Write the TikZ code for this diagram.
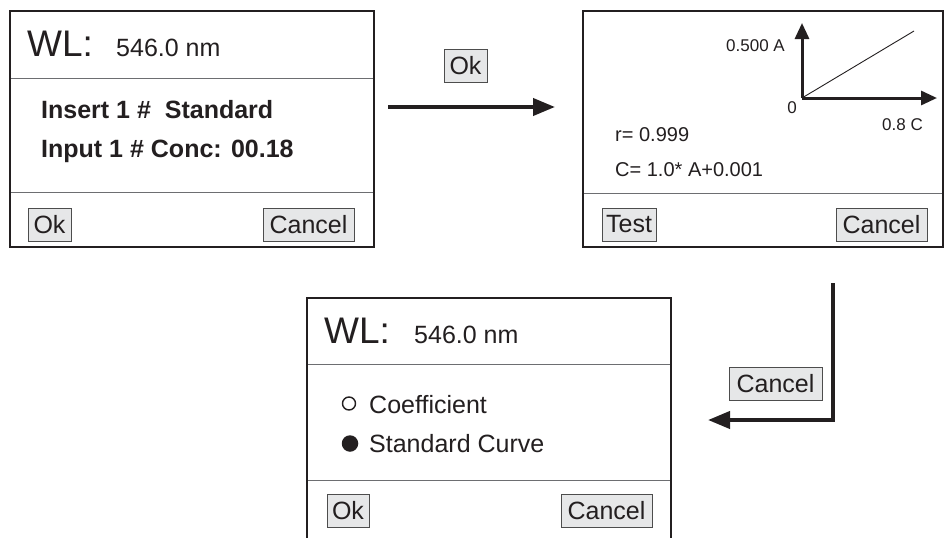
\documentclass[tikz,border=0pt]{standalone}
\usepackage{fontspec}
\setmainfont{Liberation Sans}
\usetikzlibrary{arrows.meta}
\definecolor{ink}{HTML}{231F20}
\definecolor{btnfill}{HTML}{E6E7E8}
\definecolor{btnline}{HTML}{4D4D4D}
\definecolor{divline}{HTML}{6D6E71}
\tikzset{
  screen/.style={draw=ink, line width=2.2pt, fill=white, inner sep=0pt},
  divider/.style={draw=divline, line width=1pt},
  btn/.style={draw=btnline, line width=0.9pt, fill=btnfill, inner sep=0pt,
    text=ink, font=\fontsize{25}{30}\selectfont, minimum height=33pt},
  wl/.style={anchor=base west, inner sep=0pt, text=ink, font=\fontsize{37}{44}\selectfont},
  nm/.style={anchor=base west, inner sep=0pt, text=ink, font=\fontsize{25}{30}\selectfont},
  boldtxt/.style={anchor=base west, inner sep=0pt, text=ink, font=\fontsize{25}{30}\selectfont\bfseries},
  small/.style={anchor=base west, inner sep=0pt, text=ink, font=\fontsize{20}{24}\selectfont},
  tiny/.style={inner sep=0pt, text=ink, font=\fontsize{17}{20}\selectfont},
  flow/.style={draw=ink, line width=4pt, -{Triangle[length=22pt,width=17pt]}},
  axis/.style={draw=ink, line width=3pt, -{Triangle[length=16pt,width=14pt]}},
}
\begin{document}
\begin{tikzpicture}[x=1pt,y=-1pt]
\useasboundingbox (0,0) rectangle (951,538);

% ---------- screen 1 ----------
\node[screen, minimum width=364pt, minimum height=236pt] (s1) at (192,129) {};
\draw[divider] (11,78) -- (373,78);
\draw[divider] (11,192) -- (373,192);
\node[wl] (s1wl) at (27,56) {WL:};
\node[nm] (s1nm) at (116,56) {546.0 nm};
\node[boldtxt] (s1l1) at (41,118) {Insert 1 \#\ \ Standard};
\node[boldtxt] (s1l2) at (41,157) {Input 1 \# Conc: 00.18};
\node[btn, minimum width=43pt] (s1ok) at (49.5,224.5) {Ok};
\node[btn, minimum width=91pt] (s1cancel) at (308.5,224.5) {Cancel};

% ---------- screen 2 ----------
\node[screen, minimum width=360pt, minimum height=236pt] (s2) at (763,129) {};
\draw[divider] (584,193) -- (942,193);
\coordinate (org) at (802,98);
\coordinate (ytip) at (802,23);
\coordinate (xtip) at (937,98);
\coordinate (lend) at (914,31);
\draw[axis] (org) -- (ytip);
\draw[axis] (org) -- (xtip);
\draw[draw=ink, line width=0.9pt] (org) -- (lend);
\node[tiny, anchor=base east] (ya) at (785,51) {0.500 A};
\node[tiny, anchor=base] (zero) at (792,113) {0};
\node[tiny, anchor=base west] (xc) at (882,130) {0.8 C};
\node[small] (rval) at (615,141) {r= 0.999};
\node[small] (ceq) at (615,176) {C= 1.0* A+0.001};
\node[btn, minimum width=54pt] (s2test) at (629,224.5) {Test};
\node[btn, minimum width=91pt] (s2cancel) at (881.5,224.5) {Cancel};

% ---------- screen 3 ----------
\draw[screen] (307,560) -- (307,298) -- (671,298) -- (671,560);
\draw[divider] (308,364) -- (670,364);
\draw[divider] (308,480) -- (670,480);
\node[wl] (s3wl) at (324,343) {WL:};
\node[nm] (s3nm) at (414,343) {546.0 nm};
\node[draw=ink, line width=1.4pt, circle, minimum size=13pt, inner sep=0pt] (rb1) at (349,403.5) {};
\node[fill=ink, circle, minimum size=16.5pt, inner sep=0pt] (rb2) at (350,443.5) {};
\node[nm] (coef) at (369,413) {Coefficient};
\node[nm] (stdc) at (369,452) {Standard Curve};
\node[btn, minimum width=42pt] (s3ok) at (348,510.5) {Ok};
\node[btn, minimum width=91pt] (s3cancel) at (606.5,511) {Cancel};

% ---------- transitions ----------
\coordinate (a1s) at (388,107);
\coordinate (a1e) at (555,107);
\draw[flow] (a1s) -- (a1e);
\node[btn, minimum width=43pt] (lok) at (465.5,65.5) {Ok};

\coordinate (a2s) at (833,283);
\coordinate (a2c) at (833,420);
\coordinate (a2e) at (708,420);
\draw[flow] (a2s) -- (a2c) -- (a2e);
\node[btn, minimum width=93pt] (lcancel) at (775.5,384) {Cancel};
\end{tikzpicture}
\end{document}
